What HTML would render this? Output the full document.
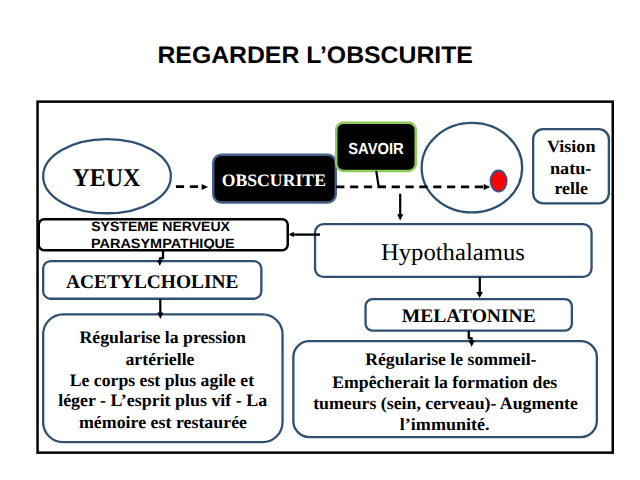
<!DOCTYPE html>
<html><head><meta charset="utf-8"><title>Regarder l'obscurite</title>
<style>
html,body{margin:0;padding:0;background:#fff;}
body{width:640px;height:480px;overflow:hidden;}
svg{display:block;text-rendering:geometricPrecision;}
</style></head><body>
<svg width="640" height="480" viewBox="0 0 640 480">
<text x="157.45" y="63.0" font-family='"Liberation Sans", sans-serif' font-size="24.0" font-weight="bold" fill="#000" textLength="315.44" lengthAdjust="spacingAndGlyphs">REGARDER L’OBSCURITE</text>
<rect x="37.55" y="101.65" width="575.20" height="351.00" rx="0" fill="none" stroke="#000" stroke-width="2.5"/>
<ellipse cx="107.00" cy="176.20" rx="63.85" ry="37.05" fill="#fff" stroke="#30506F" stroke-width="2.3"/>
<text x="72.41" y="186.0" font-family='"Liberation Serif", serif' font-size="25.5" font-weight="bold" fill="#000" textLength="67.85" lengthAdjust="spacingAndGlyphs">YEUX</text>
<line x1="175.9" y1="186.7" x2="198" y2="186.7" stroke="#000" stroke-width="2.7" stroke-dasharray="8.2 5.7"/>
<path d="M201.70,183.90 L208.10,186.90 L201.70,189.90 z" fill="#000"/>
<rect x="213.20" y="154.80" width="122.60" height="47.70" rx="8" fill="#000" stroke="#47618A" stroke-width="2.4"/>
<text x="221.68" y="186.0" font-family='"Liberation Serif", serif' font-size="17.4" font-weight="bold" fill="#fff" textLength="104.28" lengthAdjust="spacingAndGlyphs">OBSCURITE</text>
<rect x="336.25" y="122.85" width="79.50" height="48.10" rx="7" fill="#000" stroke="#90CC5C" stroke-width="2.5"/>
<text x="348.24" y="154.0" font-family='"Liberation Sans", sans-serif' font-size="16.0" font-weight="bold" fill="#fff" textLength="55.48" lengthAdjust="spacingAndGlyphs">SAVOIR</text>
<ellipse cx="471.90" cy="167.70" rx="50.25" ry="44.75" fill="none" stroke="#30506F" stroke-width="2.3"/>
<ellipse cx="498.60" cy="181.05" rx="8.05" ry="10.60" fill="#FF0000" stroke="#3C4F86" stroke-width="1.9"/>
<line x1="336.2" y1="186.8" x2="483.6" y2="186.8" stroke="#000" stroke-width="2.7" stroke-dasharray="8.2 5.66"/>
<path d="M483.60,183.95 L490.40,187.00 L483.60,190.05 z" fill="#000"/>
<path d="M376.25,171 L378.7,186.8 L386,186.8" fill="none" stroke="#000" stroke-width="2.2"/>
<rect x="533.15" y="129.15" width="75.70" height="74.20" rx="10" fill="#fff" stroke="#30506F" stroke-width="2.3"/>
<text x="546.96" y="152.0" font-family='"Liberation Serif", serif' font-size="17.3" font-weight="bold" fill="#000" textLength="48.49" lengthAdjust="spacingAndGlyphs">Vision</text>
<text x="549.95" y="173.75" font-family='"Liberation Serif", serif' font-size="17.3" font-weight="bold" fill="#000" textLength="41.45" lengthAdjust="spacingAndGlyphs">natu-</text>
<text x="554.49" y="193.75" font-family='"Liberation Serif", serif' font-size="17.3" font-weight="bold" fill="#000" textLength="33.33" lengthAdjust="spacingAndGlyphs">relle</text>
<rect x="38.75" y="219.25" width="249.00" height="31.10" rx="5.5" fill="#fff" stroke="#000" stroke-width="2.5"/>
<text x="91.24" y="231.1" font-family='"Liberation Sans", sans-serif' font-size="13.6" font-weight="bold" fill="#000" textLength="138.73" lengthAdjust="spacingAndGlyphs">SYSTEME NERVEUX</text>
<text x="90.94" y="248.3" font-family='"Liberation Sans", sans-serif' font-size="13.6" font-weight="bold" fill="#000" textLength="143.77" lengthAdjust="spacingAndGlyphs">PARASYMPATHIQUE</text>
<rect x="315.05" y="224.15" width="276.50" height="52.80" rx="8.5" fill="#fff" stroke="#30506F" stroke-width="2.3"/>
<text x="380.97" y="260.1" font-family='"Liberation Serif", serif' font-size="24.0" font-weight="normal" fill="#000" textLength="143.84" lengthAdjust="spacingAndGlyphs">Hypothalamus</text>
<rect x="43.15" y="261.05" width="218.20" height="37.70" rx="7.5" fill="#fff" stroke="#30506F" stroke-width="2.3"/>
<text x="66.0" y="287.75" font-family='"Liberation Serif", serif' font-size="19.4" font-weight="bold" fill="#000" textLength="172.41" lengthAdjust="spacingAndGlyphs">ACETYLCHOLINE</text>
<rect x="43.15" y="314.35" width="239.40" height="127.80" rx="20" fill="#fff" stroke="#30506F" stroke-width="2.3"/>
<text x="79.49" y="342.8" font-family='"Liberation Serif", serif' font-size="17.4" font-weight="bold" fill="#000" textLength="166.39" lengthAdjust="spacingAndGlyphs">Régularise la pression</text>
<text x="125.49" y="364.6" font-family='"Liberation Serif", serif' font-size="17.4" font-weight="bold" fill="#000" textLength="68.99" lengthAdjust="spacingAndGlyphs">artérielle</text>
<text x="69.79" y="385.6" font-family='"Liberation Serif", serif' font-size="17.4" font-weight="bold" fill="#000" textLength="184.34" lengthAdjust="spacingAndGlyphs">Le corps est plus agile et</text>
<text x="58.18" y="406.3" font-family='"Liberation Serif", serif' font-size="17.4" font-weight="bold" fill="#000" textLength="208.92" lengthAdjust="spacingAndGlyphs">léger - L’esprit plus vif - La</text>
<text x="78.97" y="427.8" font-family='"Liberation Serif", serif' font-size="17.4" font-weight="bold" fill="#000" textLength="168.07" lengthAdjust="spacingAndGlyphs">mémoire est restaurée</text>
<rect x="365.55" y="299.05" width="206.30" height="31.60" rx="7" fill="#fff" stroke="#30506F" stroke-width="2.3"/>
<text x="401.7" y="322.25" font-family='"Liberation Serif", serif' font-size="19.2" font-weight="bold" fill="#000" textLength="134.13" lengthAdjust="spacingAndGlyphs">MELATONINE</text>
<rect x="293.35" y="341.15" width="303.50" height="95.90" rx="16" fill="#fff" stroke="#30506F" stroke-width="2.3"/>
<text x="365.19" y="365.4" font-family='"Liberation Serif", serif' font-size="17.4" font-weight="bold" fill="#000" textLength="171.3" lengthAdjust="spacingAndGlyphs">Régularise le sommeil-</text>
<text x="332.28" y="387.5" font-family='"Liberation Serif", serif' font-size="17.4" font-weight="bold" fill="#000" textLength="224.95" lengthAdjust="spacingAndGlyphs">Empêcherait la formation des</text>
<text x="313.19" y="408.6" font-family='"Liberation Serif", serif' font-size="17.4" font-weight="bold" fill="#000" textLength="264.7" lengthAdjust="spacingAndGlyphs">tumeurs (sein, cerveau)- Augmente</text>
<text x="399.79" y="429.9" font-family='"Liberation Serif", serif' font-size="17.4" font-weight="bold" fill="#000" textLength="89.83" lengthAdjust="spacingAndGlyphs">l’immunité.</text>
<line x1="400.2" y1="193.7" x2="400.2" y2="215" stroke="#000" stroke-width="2.2"/>
<path d="M397.10,214.30 L400.20,220.60 L403.30,214.30 z" fill="#000"/>
<line x1="320" y1="234.6" x2="292" y2="234.6" stroke="#000" stroke-width="2.3"/>
<path d="M293.70,231.70 L288.70,234.50 L293.70,237.30 z" fill="#000"/>
<path d="M163,251 L163,258 L160,258.5 L160,261" fill="none" stroke="#000" stroke-width="2.3"/>
<path d="M157.00,260.00 L159.80,266.00 L162.60,260.00 z" fill="#000"/>
<line x1="160.3" y1="299" x2="160.3" y2="314" stroke="#000" stroke-width="2.2"/>
<path d="M157.30,312.50 L160.30,319.00 L163.30,312.50 z" fill="#000"/>
<line x1="479.8" y1="277" x2="479.8" y2="293" stroke="#000" stroke-width="2.2"/>
<path d="M476.35,292.00 L479.60,298.00 L482.85,292.00 z" fill="#000"/>
<path d="M468.75,331 L468.75,338 L471.6,338.5 L471.6,341" fill="none" stroke="#000" stroke-width="2.3"/>
<path d="M468.35,340.20 L471.60,346.70 L474.85,340.20 z" fill="#000"/>
</svg>
</body></html>
